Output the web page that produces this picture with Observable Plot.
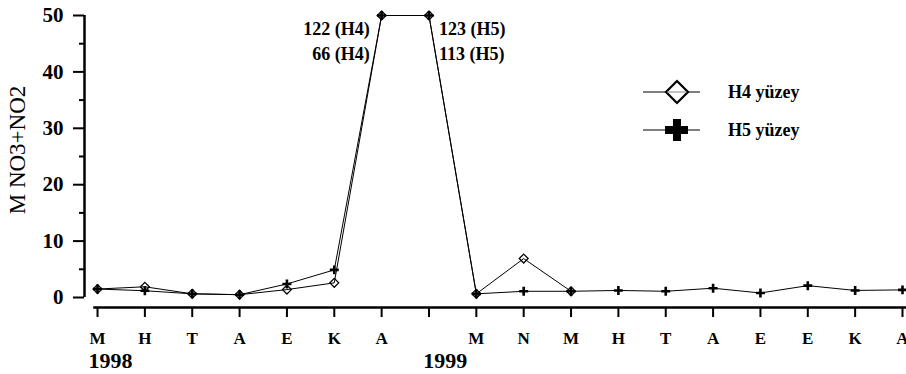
<!DOCTYPE html>
<html>
<head>
<meta charset="utf-8">
<script src="https://cdn.jsdelivr.net/npm/d3@7"></script>
<script src="https://cdn.jsdelivr.net/npm/@observablehq/plot@0.6"></script>
<style>
  body { margin: 0; background: #fff; }
  #chart { position: relative; width: 906px; height: 374px; font-family: "Liberation Serif", "Times New Roman", serif; color: #000; }
  #chart svg { overflow: visible; }
  .ytitle { position: absolute; left: 17px; top: 150px; transform: translate(-50%, -50%) rotate(-90deg); font-size: 23px; white-space: nowrap; line-height: 1; }
  .legend { position: absolute; left: 0; top: 0; pointer-events: none; }
</style>
</head>
<body>
<div id="chart"></div>
<script>
// Monthly sampling labels (1998 – 1999); one month has no label
const months = ["M","H","T","A","E","K","A","","M","N","M","H","T","A","E","E","K","A"];
const years = ["1998", "1999"];
const yearStart = [0, 8];

// Surface NO3+NO2 at stations H4 and H5
const h4 = [1.5, 1.9, 0.65, 0.5, 1.4, 2.6, 122, 66, 0.65, 6.9, 1.1];
const h5 = [1.5, 1.2, 0.65, 0.5, 2.4, 4.9, 123, 113, 0.65, 1.1, 1.1, 1.25, 1.1, 1.65, 0.8, 2.1, 1.25, 1.35];
const seriesNames = ["H4 yüzey", "H5 yüzey"];

const yMajor = [0, 10, 20, 30, 40, 50];
const yMinor = [5, 15, 25, 35, 45];
const yTitle = "M NO3+NO2";

const idx = months.map((_, i) => i);
const rows4 = h4.map((v, i) => ({i, v}));
const rows5 = h5.map((v, i) => ({i, v}));

const yTop = d3.max(yMajor);
const xDomain = [-0.275, months.length - 1];
const yDomain = [-1.773, yTop];

// off-scale values are written out beside the clipped peak
const peakA = h4.findIndex(v => v > yTop);
const peakB = h5.length - 1 - [...h5].reverse().findIndex(v => v > yTop);
const noteLeft = `${h4[peakA]} (H4)\n${h4[peakA + 1]} (H4)`;
const noteRight = `${h5[peakB - 1]} (H5)\n${h5[peakB]} (H5)`;

const serif = "Liberation Serif, Times New Roman, serif";

const chart = Plot.plot({
  width: 906,
  height: 374,
  marginLeft: 84,
  marginRight: 4,
  marginTop: 15,
  marginBottom: 67,
  style: { fontFamily: serif, color: "#000", background: "transparent" },
  x: { type: "linear", domain: xDomain, axis: null },
  y: { domain: yDomain, clamp: true, axis: null },
  marks: [
    // y axis
    Plot.ruleX([xDomain[0]], { y1: 0, y2: yTop, stroke: "#000", strokeWidth: 2.5 }),
    Plot.axisY(yMajor, { tickSize: 11, tickPadding: 10, fontSize: 21, fontWeight: "bold", strokeWidth: 2, label: null }),
    Plot.axisY(yMinor, { tickSize: 5, tickFormat: () => "", strokeWidth: 2, label: null }),
    // x axis, drawn below the zero line
    Plot.ruleY([yDomain[0]], { x1: -0.08, x2: months.length - 0.8, stroke: "#000", strokeWidth: 2.5 }),
    Plot.axisX(idx, { tickSize: 10, tickPadding: 14, tickFormat: i => months[i], fontSize: 17, fontWeight: "bold", strokeWidth: 2, label: null }),
    Plot.text([years[0]], { x: yearStart[0], y: yDomain[0], text: d => d, dy: 53, dx: -9, textAnchor: "start", fontSize: 22, fontWeight: "bold" }),
    Plot.text([years[1]], { x: yearStart[1], y: yDomain[0], text: d => d, dy: 53, dx: -9, textAnchor: "end", fontSize: 22, fontWeight: "bold" }),
    // series
    Plot.line(rows4, { x: "i", y: "v", stroke: "#000", strokeWidth: 1 }),
    Plot.line(rows5, { x: "i", y: "v", stroke: "#000", strokeWidth: 1 }),
    Plot.dot(rows5, { x: "i", y: "v", symbol: "plus", r: 3, stroke: "#000", strokeWidth: 2.6 }),
    Plot.dot(rows4, { x: "i", y: "v", symbol: "diamond2", r: 4, stroke: "#000", fill: "none", strokeWidth: 1.3 }),
    // peak annotations
    Plot.text([noteLeft], { x: peakA, y: yTop, text: d => d, textAnchor: "end", lineAnchor: "top", lineHeight: 1.38, dx: -12, dy: 2, fontSize: 18, fontWeight: "bold" }),
    Plot.text([noteRight], { x: peakB, y: yTop, text: d => d, textAnchor: "start", lineAnchor: "top", lineHeight: 1.38, dx: 10, dy: 2, fontSize: 18, fontWeight: "bold" })
  ]
});

const root = document.getElementById("chart");
root.appendChild(chart);

const title = document.createElement("div");
title.className = "ytitle";
title.textContent = yTitle;
root.appendChild(title);

// legend
const leg = d3.create("svg").attr("class", "legend").attr("width", 906).attr("height", 374);
const rowsY = [92, 130];
seriesNames.forEach((name, k) => {
  const g = leg.append("g").attr("transform", `translate(0,${rowsY[k]})`);
  g.append("line").attr("x1", 643).attr("x2", 700).attr("y1", 0).attr("y2", 0).attr("stroke", "#000").attr("stroke-width", 1.2);
  if (k === 0) {
    g.append("path").attr("d", "M677,-11L688,0L677,11L666,0Z").attr("fill", "#fff").attr("stroke", "#000").attr("stroke-width", 2.2);
    g.append("line").attr("x1", 667).attr("x2", 687).attr("y1", 0).attr("y2", 0).attr("stroke", "#888").attr("stroke-width", 1);
  } else {
    g.append("rect").attr("x", 665).attr("y", -4).attr("width", 23).attr("height", 8).attr("fill", "#000");
    g.append("rect").attr("x", 673).attr("y", -11).attr("width", 8).attr("height", 22).attr("fill", "#000");
  }
  g.append("text").attr("x", 728).attr("y", 0).attr("dy", "0.35em")
    .attr("font-family", serif).attr("font-size", 18).attr("font-weight", "bold").text(name);
});
root.appendChild(leg.node());
</script>
</body>
</html>
